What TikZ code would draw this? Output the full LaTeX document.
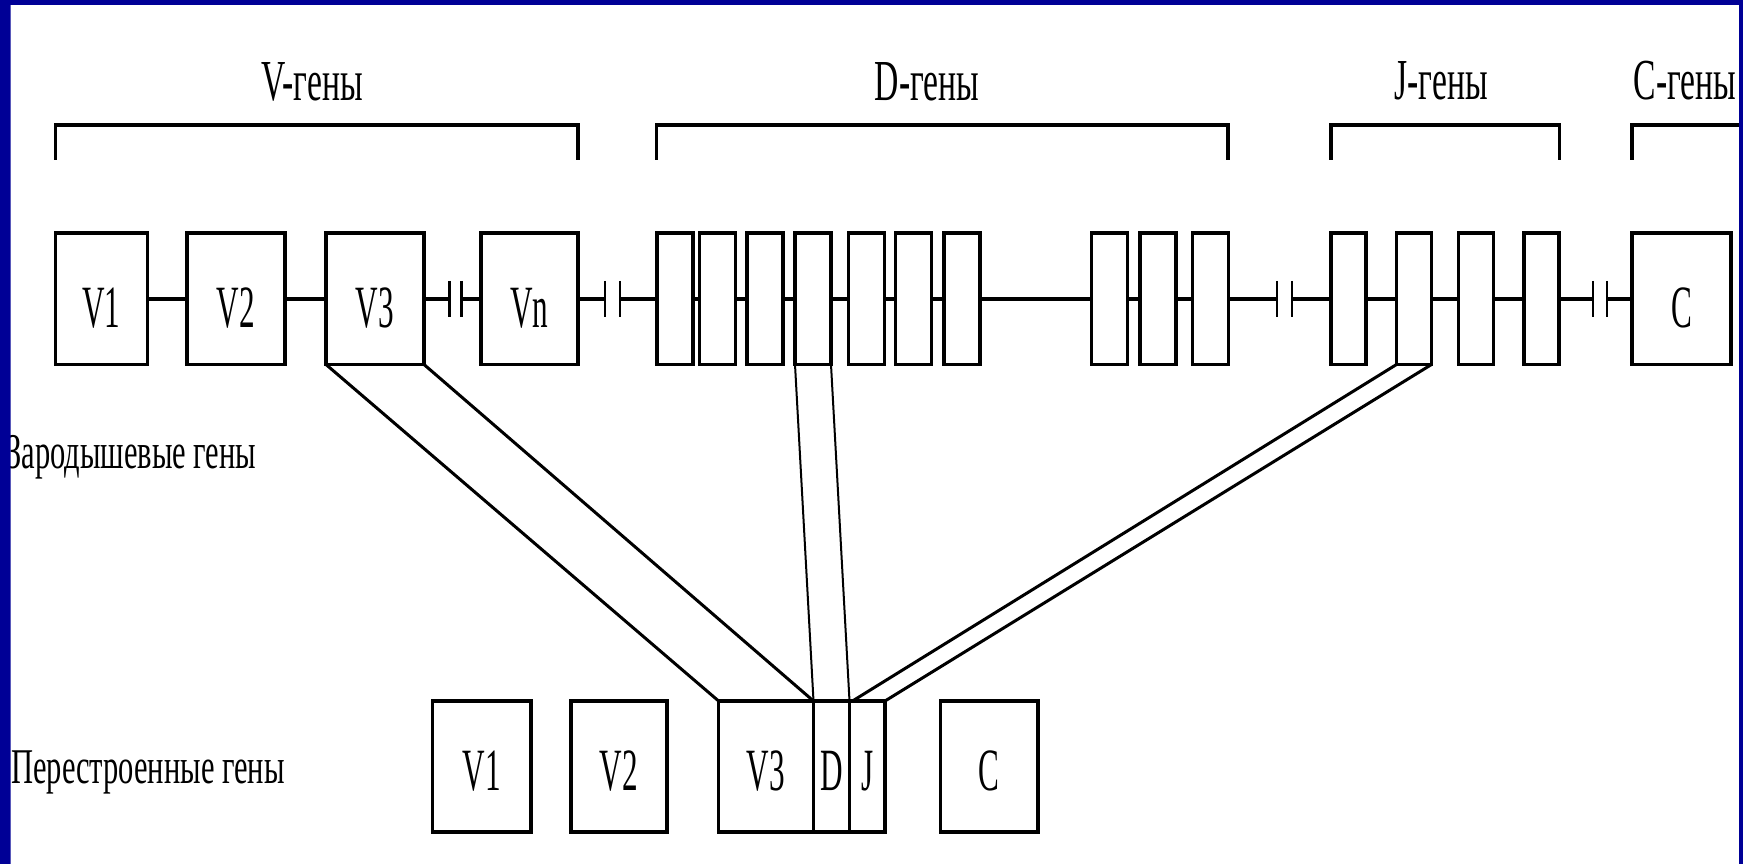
\documentclass[tikz,border=0pt]{standalone}
\usepackage{fontspec}
\setmainfont[FakeStretch=0.52]{Liberation Serif}
\newfontfamily\grpfont[FakeStretch=0.58]{Liberation Serif}
\newfontfamily\rowfont[FakeStretch=0.61]{Liberation Serif}
\definecolor{slideblue}{RGB}{0,0,150}
\begin{document}
\begin{tikzpicture}[x=1pt,y=-1pt,
  gbox/.style={draw=black, line width=3.5pt, outer sep=0pt, inner sep=0pt, minimum height=131.5pt},
  rbox/.style={draw=black, line width=3.5pt, outer sep=0pt, inner sep=0pt, minimum height=131pt},
  dbox/.style={gbox, minimum width=36pt},
  jbox/.style={gbox, minimum width=35pt},
  wire/.style={line width=3.5pt},
  diag/.style={line width=3pt},
  thinwire/.style={line width=2pt},
  brk/.style={line width=2.5pt},
  bracketline/.style={line width=3.5pt},
  boxlbl/.style={font=\fontsize{60}{60}\selectfont, inner sep=0pt, anchor=base},
  grouplbl/.style={font=\grpfont\fontsize{58}{58}\selectfont, inner sep=0pt, anchor=base},
  rowlbl/.style={font=\rowfont\fontsize{50}{50}\selectfont, inner sep=0pt, anchor=base west}]
\useasboundingbox (0,0) rectangle (1743,864);
\fill[white] (0,0) rectangle (1743,864);

% group labels
\node[grouplbl] (lv) at (312,101) {V-гены};
\node[grouplbl] (ld) at (927,101) {D-гены};
\node[grouplbl] (lj) at (1441,100) {J-гены};
\node[grouplbl] (lc) at (1685,100) {C-гены};

% brackets
\draw[bracketline] (55.5,160) -- (55.5,125) -- (578,125) -- (578,160);
\draw[bracketline] (656.5,160) -- (656.5,125) -- (1228,125) -- (1228,160);
\draw[bracketline] (1331,160) -- (1331,125) -- (1559.6,125) -- (1559.6,160);
\draw[bracketline] (1632,160) -- (1632,125) -- (1740,125);

% upper row boxes
\node[gbox, minimum width=91.8pt] (v1) at (101.4,298.75) {};
\node[gbox, minimum width=98.2pt] (v2) at (235.9,298.75) {};
\node[gbox, minimum width=98pt] (v3) at (375,298.75) {};
\node[gbox, minimum width=97pt] (vn) at (529.5,298.75) {};
\node[dbox] (d1) at (674.75,298.75) {};
\node[dbox] (d2) at (717.5,298.75) {};
\node[dbox] (d3) at (765,298.75) {};
\node[dbox] (d4) at (813,298.75) {};
\node[dbox] (d5) at (866.5,298.75) {};
\node[dbox] (d6) at (913.5,298.75) {};
\node[dbox] (d7) at (961.8,298.75) {};
\node[dbox] (d8) at (1109.4,298.75) {};
\node[dbox] (d9) at (1157.8,298.75) {};
\node[dbox] (d10) at (1210.4,298.75) {};
\node[jbox] (j1) at (1348.5,298.75) {};
\node[jbox] (j2) at (1414,298.75) {};
\node[jbox] (j3) at (1476,298.75) {};
\node[jbox] (j4) at (1541.6,298.75) {};
\node[gbox, minimum width=99pt] (c) at (1681.5,298.75) {};

\node[boxlbl] (v1t) at ([yshift=-29pt]v1.center) {V1};
\node[boxlbl] (v2t) at ([yshift=-29pt]v2.center) {V2};
\node[boxlbl] (v3t) at ([yshift=-29pt]v3.center) {V3};
\node[boxlbl] (vnt) at ([yshift=-29pt]vn.center) {Vn};
\node[boxlbl] (ct) at ([yshift=-29pt]c.center) {C};

% break points
\coordinate (b1l) at (449.7,298.75);
\coordinate (b1r) at (461.5,298.75);
\coordinate (b2l) at (605,298.75);
\coordinate (b2r) at (620,298.75);
\coordinate (b3l) at (1277,298.75);
\coordinate (b3r) at (1292,298.75);
\coordinate (b4l) at (1593,298.75);
\coordinate (b4r) at (1607,298.75);

% upper connectors
\draw[wire] (v1.east) -- (v2.west);
\draw[wire] (v2.east) -- (v3.west);
\draw[wire] (v3.east) -- (b1l);
\draw[wire] (b1r) -- (vn.west);
\draw[wire] (vn.east) -- (b2l);
\draw[wire] (b2r) -- (d1.west);
\draw[wire] (d1.east) -- (d2.west);
\draw[wire] (d2.east) -- (d3.west);
\draw[wire] (d3.east) -- (d4.west);
\draw[wire] (d4.east) -- (d5.west);
\draw[wire] (d5.east) -- (d6.west);
\draw[wire] (d6.east) -- (d7.west);
\draw[wire] (d7.east) -- (d8.west);
\draw[wire] (d8.east) -- (d9.west);
\draw[wire] (d9.east) -- (d10.west);
\draw[wire] (d10.east) -- (b3l);
\draw[wire] (b3r) -- (j1.west);
\draw[wire] (j1.east) -- (j2.west);
\draw[wire] (j2.east) -- (j3.west);
\draw[wire] (j3.east) -- (j4.west);
\draw[wire] (j4.east) -- (b4l);
\draw[wire] (b4r) -- (c.west);
\foreach \b in {b1l,b1r,b2l,b2r,b3l,b3r,b4l,b4r}
  \draw[brk] (\b) ++(0,-18) -- ++(0,36);

% row labels
\node[rowlbl] (germ) at (6,468) {Зародышевые гены};
\node[rowlbl] (rearr) at (11,783) {Перестроенные гены};

% lower row
\node[rbox, minimum width=98.5pt] (rv1) at (481.75,766.5) {};
\node[rbox, minimum width=96pt] (rv2) at (619,766.5) {};
\node[rbox, minimum width=94.9pt] (rv3) at (766.05,766.5) {};
\node[rbox, minimum width=36pt] (rd) at (831.5,766.5) {};
\node[rbox, minimum width=35.5pt] (rj) at (867.25,766.5) {};
\node[rbox, minimum width=97.4pt] (rc) at (989.3,766.5) {};

\node[boxlbl] (rv1t) at ([yshift=-24pt]rv1.center) {V1};
\node[boxlbl] (rv2t) at ([yshift=-24pt]rv2.center) {V2};
\node[boxlbl] (rv3t) at ([yshift=-24pt]rv3.center) {V3};
\node[boxlbl] (rdt) at ([yshift=-24pt]rd.center) {D};
\node[boxlbl] (rjt) at ([yshift=-24pt]rj.center) {J};
\node[boxlbl] (rct) at ([yshift=-24pt]rc.center) {C};

% recombination lines
\draw[diag] (v3.south west) -- (rv3.north west);
\draw[diag] (v3.south east) -- (rv3.north east);
\draw[thinwire] (d4.south west) -- (rd.north west);
\draw[thinwire] (d4.south east) -- (rd.north east);
\draw[diag] (j2.south west) -- ([xshift=3pt]rj.north west);
\draw[diag] (j2.south east) -- (rj.north east);

% slide border on top
\fill[slideblue, even odd rule] (0,0) rectangle (1743,864) (10.7,5) rectangle (1739,870);
\end{tikzpicture}
\end{document}
